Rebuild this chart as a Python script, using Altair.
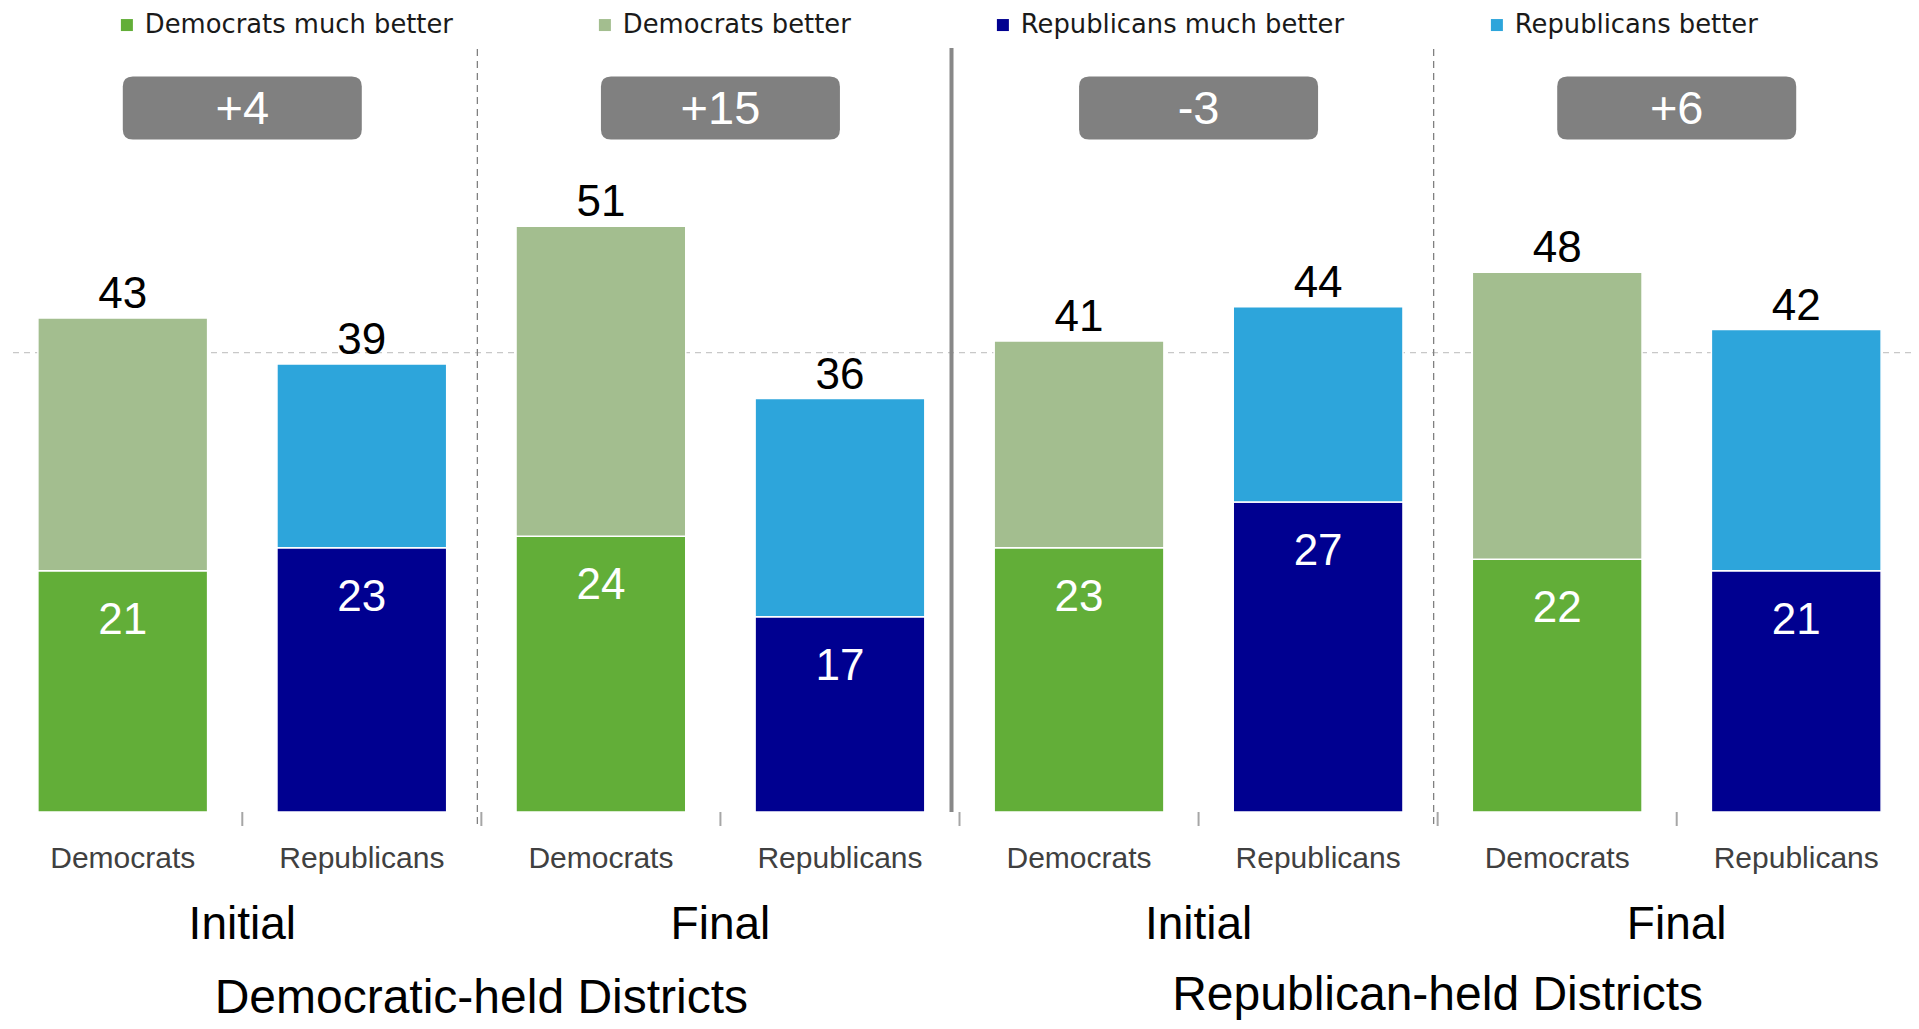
import altair as alt
import pandas as pd

# ---- data ----
districts = ["Democratic-held Districts"] * 4 + ["Republican-held Districts"] * 4
stages = ["Initial", "Initial", "Final", "Final", "Initial", "Initial", "Final", "Final"]
parties = ["Democrats", "Republicans"] * 4
much_better = [21, 23, 24, 17, 23, 27, 22, 21]
better = [22, 16, 27, 19, 18, 17, 25, 21]          # drawn segment heights
total_labels = [43, 39, 51, 36, 41, 44, 48, 42]    # printed totals
margins = ["+4", "+15", "-3", "+6"]
categories = ["Democrats much better", "Democrats better",
              "Republicans much better", "Republicans better"]
colors = ["#62ae38", "#a3be8f", "#000090", "#2da5db"]
grid_values = [40]

slots = [f"{d}|{s}|{p}" for d, s, p in zip(districts, stages, parties)]

# ---- tables ----
bar_rows = []
for sl, p, m, b in zip(slots, parties, much_better, better):
    bar_rows.append({"slot": sl, "category": f"{p} much better", "lo": 0, "hi": m})
    bar_rows.append({"slot": sl, "category": f"{p} better", "lo": m, "hi": m + b})
bars_df = pd.DataFrame(bar_rows)

labels_df = pd.DataFrame({"slot": slots, "party": parties, "much": much_better,
                          "top": [m + b for m, b in zip(much_better, better)],
                          "total": total_labels})

kinds = ["tick", "dashed", "tick", "solid", "tick", "dashed", "tick"]
bounds_df = pd.DataFrame({"slot": slots[1:], "kind": kinds})

group_df = pd.DataFrame({"slot": [slots[1], slots[3], slots[5], slots[7]],
                         "stage": [stages[0], stages[2], stages[4], stages[6]],
                         "margin": margins})
district_df = pd.DataFrame({"slot": [slots[2], slots[6]],
                            "district": [districts[0], districts[4]]})
grid_df = pd.DataFrame({"v": grid_values})

# ---- layout constants ----
W = 1903
H = 804
P_IN, P_OUT = 0.29, 0.125
step = W / (len(slots) - P_IN + 2 * P_OUT)
half_gap = P_IN * step / 2
FONT = "Liberation Sans"

xscale = alt.Scale(domain=slots, paddingInner=P_IN, paddingOuter=P_OUT)
yscale = alt.Scale(domain=[0, 70], nice=False, zero=True)


def X(bp):
    return alt.X("slot:N", scale=xscale, axis=None, bandPosition=bp)


grid = alt.Chart(grid_df).mark_rule(color="#c8c8c8", strokeWidth=1.3, strokeDash=[6, 5]).encode(
    y=alt.Y("v:Q", scale=yscale, axis=None))

bars = alt.Chart(bars_df).mark_bar(stroke="white", strokeWidth=1.5).encode(
    x=alt.X("slot:N", scale=xscale, sort=slots,
            axis=alt.Axis(labels=False, ticks=False, domain=True, domainColor="#a6a6a6",
                          domainWidth=2, title=None, grid=False)),
    y=alt.Y("lo:Q", scale=yscale, axis=None),
    y2="hi:Q",
    color=alt.Color("category:N", scale=alt.Scale(domain=categories, range=colors),
                    legend=alt.Legend(orient="none", legendX=106, legendY=4,
                                      direction="horizontal", columns=4, title=None,
                                      symbolType="square", symbolSize=144,
                                      symbolStrokeWidth=0, symbolOpacity=1,
                                      labelFont="DejaVu Sans", labelFontSize=25.8,
                                      labelColor="#1a1a1a", labelOffset=5,
                                      labelLimit=600,
                                      columnPadding=139, padding=0)),
)

top_labels = alt.Chart(labels_df).mark_text(
    font=FONT, fontSize=44, color="black", baseline="alphabetic", dy=-10
).encode(x=X(0.5), y=alt.Y("top:Q", scale=yscale, axis=None), text="total:Q")

inner_labels = alt.Chart(labels_df).mark_text(
    font=FONT, fontSize=44, color="white", baseline="alphabetic", dy=63
).encode(x=X(0.5), y=alt.Y("much:Q", scale=yscale, axis=None), text="much:Q")

party_labels = alt.Chart(labels_df).mark_text(
    font=FONT, fontSize=30, color="#404040", baseline="alphabetic"
).encode(x=X(0.5), y=alt.value(860), text="party:N")

ticks = alt.Chart(bounds_df).mark_rule(color="#a6a6a6", strokeWidth=2, xOffset=-half_gap).encode(
    x=X(0), y=alt.value(H), y2=alt.value(H + 14))

dashed = alt.Chart(bounds_df).transform_filter(alt.datum.kind == "dashed").mark_rule(
    color="#808080", strokeWidth=1.3, strokeDash=[7, 5], xOffset=-half_gap - 4
).encode(x=X(0), y=alt.value(41), y2=alt.value(820))

solid = alt.Chart(bounds_df).transform_filter(alt.datum.kind == "solid").mark_rule(
    color="#888888", strokeWidth=4, xOffset=-half_gap - 8
).encode(x=X(0), y=alt.value(40), y2=alt.value(H))

bw, bh, r = 239.0, 63.0, 10.0
hx, hy = 1.0, bh / bw
rr = r / (bw / 2)
badge_path = (f"M {-hx + rr},{-hy} L {hx - rr},{-hy} Q {hx},{-hy} {hx},{-hy + rr} "
              f"L {hx},{hy - rr} Q {hx},{hy} {hx - rr},{hy} L {-hx + rr},{hy} "
              f"Q {-hx},{hy} {-hx},{hy - rr} L {-hx},{-hy + rr} Q {-hx},{-hy} {-hx + rr},{-hy} Z")

badges = alt.Chart(group_df).mark_point(
    shape=badge_path, size=bw ** 2, filled=True, color="#808080",
    opacity=1, strokeWidth=0, xOffset=-half_gap
).encode(x=X(0), y=alt.value(100))

badge_text = alt.Chart(group_df).mark_text(
    font=FONT, fontSize=47, color="white", baseline="middle", xOffset=-half_gap, dy=2
).encode(x=X(0), y=alt.value(100), text="margin:N")

stage_text = alt.Chart(group_df).mark_text(
    font=FONT, fontSize=46, color="black", baseline="alphabetic", xOffset=-half_gap
).encode(x=X(0), y=alt.value(931), text="stage:N")

dem_title = alt.Chart(district_df).transform_filter(
    alt.datum.district == districts[0]
).mark_text(
    font=FONT, fontSize=48, color="black", baseline="alphabetic", xOffset=-half_gap
).encode(x=X(0), y=alt.value(1005), text="district:N")

rep_title = alt.Chart(district_df).transform_filter(
    alt.datum.district == districts[4]
).mark_text(
    font=FONT, fontSize=48, color="black", baseline="alphabetic", xOffset=-half_gap
).encode(x=X(0), y=alt.value(1002), text="district:N")

chart = alt.layer(
    grid, bars, solid, dashed, ticks, top_labels, inner_labels, party_labels,
    badges, badge_text, stage_text, dem_title, rep_title
).properties(
    width=W, height=H,
    autosize=alt.AutoSizeParams(type="none"),
    padding={"left": 0, "top": 0, "right": 0, "bottom": 212},
).configure(font=FONT).configure_view(stroke=None)

chart.save("out.html", embed_options={"renderer": "svg", "actions": False})
